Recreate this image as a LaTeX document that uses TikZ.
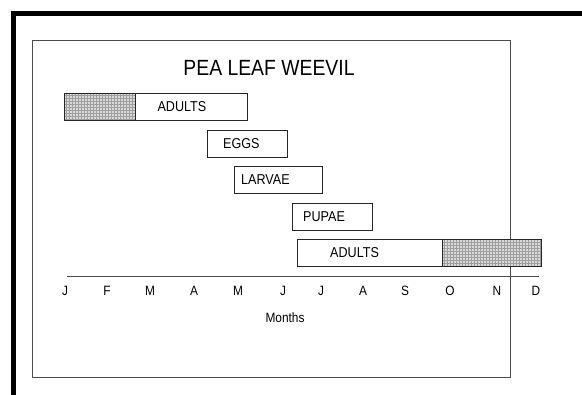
\documentclass[tikz,border=0pt]{standalone}
\usepackage{fontspec}
\setmainfont{Liberation Sans}[FakeStretch=0.88]
\usetikzlibrary{positioning,patterns}

\begin{document}
\begin{tikzpicture}[
    x=1pt, y=-1pt,
    stage/.style={rectangle, draw=black!85, thin, minimum height=27pt, inner ysep=0pt, anchor=north west, align=left, font=\fontsize{14.3}{16}\selectfont},
    winter/.style={stage, preaction={fill=gray!30}, pattern=grid, pattern color=gray!75},
    month/.style={font=\fontsize{13.5}{15}\selectfont}
]
\useasboundingbox (0,0) rectangle (582,395);

% frames
\draw[line width=5pt] (13,395) -- (13,14) -- (582,14);
\draw[gray!60!black, line width=0.8pt] (32,40) rectangle (510,377);

\node[font=\fontsize{22}{26}\selectfont] (title) at (269,68) {PEA LEAF WEEVIL};

% life stages
\node[winter, minimum width=71pt] (ad1w) at (64,93) {};
\node[stage, text width=68pt, inner xsep=22pt, right=0pt of ad1w] (ad1) {ADULTS};
\node[stage, text width=48pt, inner xsep=16pt] (eggs) at (207,130) {EGGS};
\node[stage, text width=74pt, inner xsep=7pt] (larvae) at (234,166) {LARVAE};
\node[stage, text width=58pt, inner xsep=11pt] (pupae) at (292,203) {PUPAE};
\node[stage, text width=79pt, inner xsep=33pt] (ad2) at (297,239) {ADULTS};
\node[winter, minimum width=99pt, right=0pt of ad2] (ad2w) {};

% month axis
\coordinate (ax0) at (67,276);
\coordinate (ax1) at (539,276);
\draw[gray!60!black, line width=0.9pt] (ax0) -- (ax1);
\foreach \m/\x [count=\i] in {J/65,F/107,M/150,A/194,M/238,J/283,J/321,A/363,S/405,O/450,N/497,D/536}
    \node[month] (m\i) at (\x,291) {\m};
\node[month] (xlabel) at (285,318) {Months};

\end{tikzpicture}
\end{document}
